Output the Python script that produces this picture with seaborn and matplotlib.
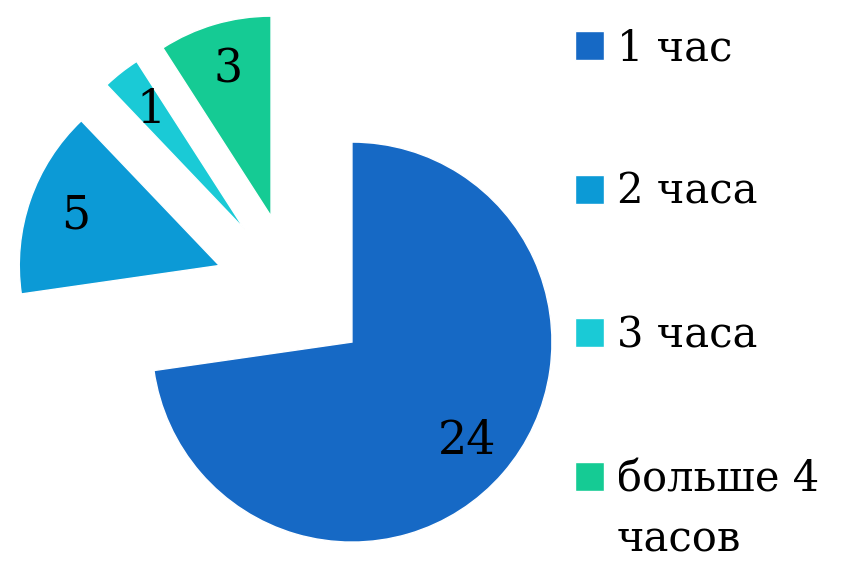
import matplotlib
matplotlib.use("Agg")
import matplotlib.pyplot as plt
import seaborn as sns

labels = ["1 час", "2 часа", "3 часа", "больше 4"]
label_tail = "часов"  # second line of the last legend label
values = [24, 5, 1, 3]
colors = ["#1669C5", "#0C9AD6", "#1ACAD6", "#15CB94"]

sns.set_theme(style="white")
plt.rcParams["font.family"] = ["DejaVu Serif"]
plt.rcParams["text.color"] = "black"

fig = plt.figure(figsize=(8.41, 5.65), dpi=100)
ax = fig.add_axes([0, 0, 1, 1])

total = sum(values)
wedges, texts, autotexts = ax.pie(
    values,
    colors=colors,
    startangle=90,
    counterclock=False,
    explode=[0.39] * len(values),
    autopct=lambda p: f"{round(p * total / 100)}",
    pctdistance=0.76,
    textprops={"fontsize": 33, "color": "black"},
)
ax.set_xlim(-1.465, 2.74)
ax.set_ylim(-1.37, 1.455)
ax.set_aspect("auto")

legend_size = 30
leg = fig.legend(
    wedges,
    labels,
    loc="upper left",
    bbox_to_anchor=(575 / 841, 0.952),
    frameon=False,
    fontsize=legend_size,
    labelcolor="black",
    borderpad=0,
    borderaxespad=0,
    handlelength=0.7,
    handleheight=0.7,
    handletextpad=0.3,
    labelspacing=2.44,
)

# second line of the last label, set under "больше 4"
fig.canvas.draw()
last = leg.get_texts()[-1].get_window_extent()
fig.text(
    last.x0 / fig.bbox.width,
    (last.y0 - 60) / fig.bbox.height,
    label_tail,
    fontsize=legend_size,
    ha="left",
    va="bottom",
)

fig.savefig("out.png", dpi=100)
